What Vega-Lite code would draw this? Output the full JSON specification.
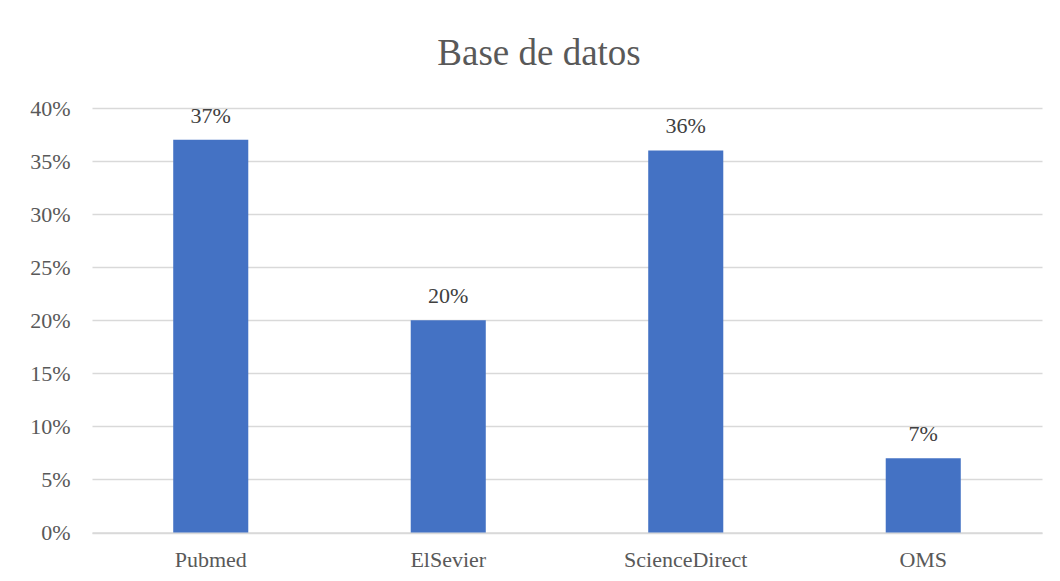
{
  "$schema": "https://vega.github.io/schema/vega-lite/v6.json",
  "autosize": {"type": "none"},
  "width": 950,
  "height": 424.5,
  "padding": {"left": 92, "top": 108, "right": 18, "bottom": 48.5},
  "background": "white",
  "title": {
    "text": "Base de datos",
    "font": "Liberation Serif",
    "fontSize": 37,
    "fontWeight": "normal",
    "color": "#595959",
    "anchor": "middle",
    "baseline": "alphabetic",
    "offset": -5,
    "dx": -28
  },
  "data": {
    "values": [
      {"base": "Pubmed", "pct": 0.37},
      {"base": "ElSevier", "pct": 0.20},
      {"base": "ScienceDirect", "pct": 0.36},
      {"base": "OMS", "pct": 0.07}
    ]
  },
  "encoding": {
    "x": {
      "field": "base",
      "type": "nominal",
      "sort": null,
      "title": null,
      "scale": {"paddingInner": 0.684, "paddingOuter": 0.342},
      "axis": {
        "labelAngle": 0,
        "labelFont": "Liberation Serif",
        "labelFontSize": 22,
        "labelColor": "#595959",
        "labelPadding": 17,
        "ticks": false,
        "domainColor": "#d9d9d9",
        "domainWidth": 1.3
      }
    },
    "y": {
      "field": "pct",
      "type": "quantitative",
      "title": null,
      "scale": {"domain": [0, 0.4]},
      "axis": {
        "format": ".0%",
        "values": [0, 0.05, 0.1, 0.15, 0.2, 0.25, 0.3, 0.35, 0.4],
        "labelFont": "Liberation Serif",
        "labelFontSize": 22,
        "labelColor": "#595959",
        "labelPadding": 22,
        "ticks": false,
        "domain": false,
        "gridColor": "#d9d9d9",
        "gridWidth": 1.3
      }
    }
  },
  "layer": [
    {"mark": {"type": "bar", "color": "#4472c4"}},
    {
      "mark": {
        "type": "text",
        "baseline": "alphabetic",
        "dy": -17,
        "font": "Liberation Serif",
        "fontSize": 22,
        "color": "#404040"
      },
      "encoding": {"text": {"field": "pct", "type": "quantitative", "format": ".0%"}}
    }
  ],
  "config": {"view": {"stroke": null}}
}
